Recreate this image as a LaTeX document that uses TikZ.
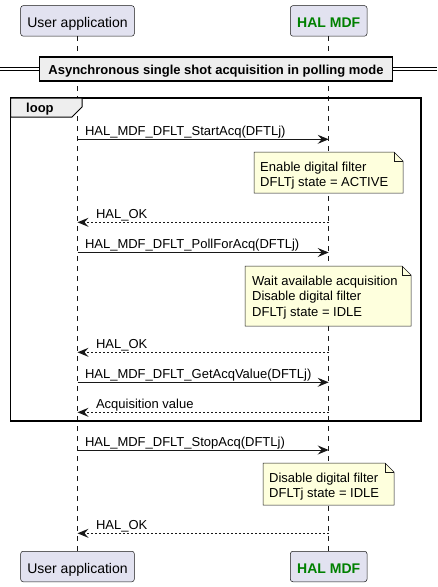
\documentclass[tikz,border=0pt]{standalone}
\usepackage{fontspec}
\setmainfont{Liberation Sans}
\usetikzlibrary{arrows.meta,calc}
\definecolor{partfill}{HTML}{E2E2F0}
\definecolor{linegray}{HTML}{181818}
\definecolor{notefill}{HTML}{FEFFDD}
\definecolor{grpfill}{HTML}{EEEEEE}
\definecolor{halgreen}{HTML}{008000}
\tikzset{
         part/.style={draw=linegray,fill=partfill,line width=0.5pt,rounded corners=2.5pt,
                      minimum height=30.5pt,inner sep=0,text height=13pt,text depth=0pt,
                      font=\fontsize{14}{16}\selectfont},
         life/.style={draw=linegray,line width=0.5pt,dash pattern=on 5pt off 5pt},
         call/.style={draw=linegray,line width=1pt,-{Stealth[length=11pt,width=9pt,inset=4pt]}},
         reply/.style={call,dash pattern=on 2pt off 2pt},
         lbl/.style={inner sep=0,anchor=base west,font=\fontsize{13}{15.5}\selectfont},
         notebg/.style={draw=linegray,fill=notefill,line width=0.5pt},
         notetxt/.style={inner sep=0,anchor=north west,align=left,font=\fontsize{13}{15.5}\selectfont},
         grp/.style={draw=black,fill=grpfill}
        }
% note outline with folded corner: x1,y1,x2,y2
\newcommand{\notebox}[4]{
  \filldraw[notebg] (#1,#2)--($(#3,#2)+(-9,0)$)--($(#3,#2)+(0,9)$)--(#3,#4)--(#1,#4)--cycle;
  \draw[notebg,fill=none] ($(#3,#2)+(-9,0)$)|-($(#3,#2)+(0,9)$);
}

\begin{document}
\begin{tikzpicture}[x=1pt,y=-1pt]
\useasboundingbox (0,0) rectangle (437,587);

\node[part,minimum width=113.6pt] (uaTop) at (77.5,20.9) {User application}; %top left box
\node[part,minimum width=76.6pt,text=halgreen,font=\fontsize{14}{16}\selectfont\bfseries] (hmTop) at (328.7,20.9) {HAL MDF}; %top right box
\node[part,minimum width=113.6pt] (uaBot) at (77.5,566.5) {User application}; %bottom left box
\node[part,minimum width=76.6pt,text=halgreen,font=\fontsize{14}{16}\selectfont\bfseries] (hmBot) at (328.7,566.5) {HAL MDF}; %bottom right box
\draw[life] (uaTop) -- (uaBot); %user lifeline
\draw[life] (hmTop) -- (hmBot); %hal lifeline

%message heights on both lifelines
\foreach \n/\y in {1/139.3,2/222.3,3/252.5,4/352.3,5/382.3,6/412.3,7/450,8/533.3}
  {\coordinate (ua\n) at (77.5,\y); \coordinate (hm\n) at (328.7,\y);}

%separator
\draw[line width=1pt] (0,67.5)--(39,67.5) (0,70.7)--(39,70.7); %left double line
\draw[line width=1pt] (393,67.5)--(437,67.5) (393,70.7)--(437,70.7); %right double line
\draw[grp,line width=1.5pt] (39.5,57)rectangle(392.5,81); %separator box
\node[lbl,anchor=base,font=\fontsize{13}{15.5}\selectfont\bfseries] (sepTitle) at (216,74.7) {Asynchronous single shot acquisition in polling mode};

%loop frame
\draw[line width=1.5pt] (10.5,98)rectangle(421,421); %frame
\filldraw[grp,line width=1pt] (10.5,98)--(82,98)--(82,107)--(72,117)--(10.5,117)--cycle; %tab
\node[lbl,font=\fontsize{13}{15.5}\selectfont\bfseries] (loopLbl) at (26,112.5) {loop};

\draw[call] (ua1) -- (hm1) node[lbl,pos=0,xshift=7pt,yshift=4pt] {HAL\_MDF\_DFLT\_StartAcq(DFTLj)};
\notebox{254}{152}{403}{193} %note 1
\node[notetxt] (note1) at (260,161.5) {Enable digital filter\\DFLTj state = ACTIVE};
\draw[reply] (hm2) -- (ua2) node[lbl,pos=1,xshift=18pt,yshift=4pt] {HAL\_OK};
\draw[call] (ua3) -- (hm3) node[lbl,pos=0,xshift=7pt,yshift=4pt] {HAL\_MDF\_DFLT\_PollForAcq(DFTLj)};
\notebox{245}{266}{411}{326} %note 2
\node[notetxt] (note2) at (252,275.5) {Wait available acquisition\\Disable digital filter\\DFLTj state = IDLE};
\draw[reply] (hm4) -- (ua4) node[lbl,pos=1,xshift=18pt,yshift=4pt] {HAL\_OK};
\draw[call] (ua5) -- (hm5) node[lbl,pos=0,xshift=7pt,yshift=4pt] {HAL\_MDF\_DFLT\_GetAcqValue(DFTLj)};
\draw[reply] (hm6) -- (ua6) node[lbl,pos=1,xshift=18pt,yshift=4pt] {Acquisition value};

\draw[call] (ua7) -- (hm7) node[lbl,pos=0,xshift=7pt,yshift=4pt] {HAL\_MDF\_DFLT\_StopAcq(DFTLj)};
\notebox{263}{463}{394}{505} %note 3
\node[notetxt] (note3) at (269,472.5) {Disable digital filter\\DFLTj state = IDLE};
\draw[reply] (hm8) -- (ua8) node[lbl,pos=1,xshift=18pt,yshift=4pt] {HAL\_OK};
\end{tikzpicture}
\end{document}
